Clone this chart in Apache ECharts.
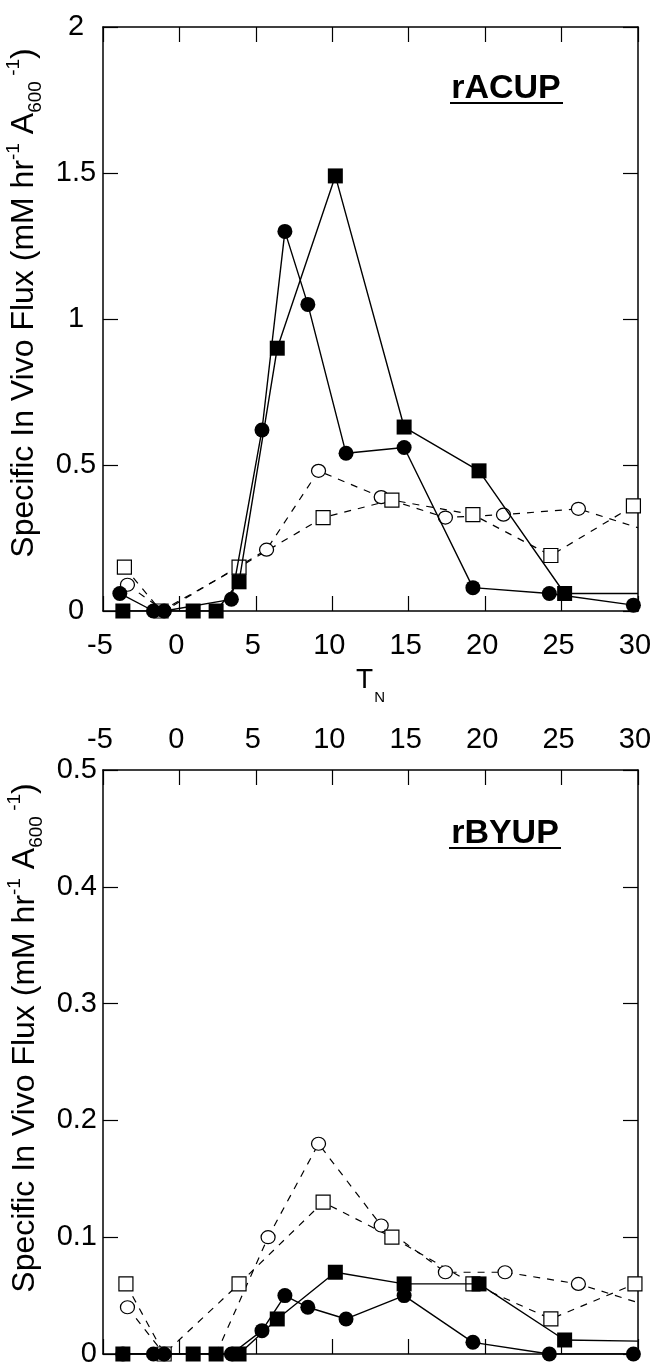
<!DOCTYPE html>
<html><head><meta charset="utf-8">
<script src="https://cdn.jsdelivr.net/npm/echarts@6/dist/echarts.min.js"></script>
<style>html,body{margin:0;padding:0;background:#fff}#c{width:651px;height:1367px}</style>
</head><body><div id="c"></div>
<script>
// ---------- Data: rACUP panel (top) ----------
const xTicksMin = -5, xTicksMax = 30, xTickStep = 5;
const acupYMax = 2, acupYStep = 0.5;
const acupFilledCircleX = [-3.9, -1.7, -1.0, 3.4, 5.4, 6.9, 8.4, 10.9, 14.7, 19.2, 24.2, 29.7];
const acupFilledCircleY = [0.06, 0, 0, 0.04, 0.62, 1.30, 1.05, 0.54, 0.56, 0.08, 0.06, 0.02];
const acupFilledSquareX = [-3.7, 0.9, 2.4, 3.9, 6.4, 10.2, 14.7, 19.6, 25.2];
const acupFilledSquareY = [0, 0, 0, 0.10, 0.90, 1.49, 0.63, 0.48, 0.06];
const acupFilledSquareEdge = [30, 0.06];
const acupOpenCircleX = [-3.4, -1.0, 5.7, 9.1, 13.2, 17.4, 21.2, 26.1];
const acupOpenCircleY = [0.09, 0, 0.21, 0.48, 0.39, 0.32, 0.33, 0.35];
const acupOpenCircleEdge = [30, 0.285];
const acupOpenSquareX = [-3.6, -1.2, 3.9, 9.4, 13.9, 19.2, 24.3, 29.7];
const acupOpenSquareY = [0.15, 0, 0.15, 0.32, 0.38, 0.33, 0.19, 0.36];

// ---------- Data: rBYUP panel (bottom) ----------
const byupYMax = 0.5, byupYStep = 0.1;
const byupFilledCircleX = [-3.7, -1.7, -1.0, 3.4, 5.4, 6.9, 8.4, 10.9, 14.7, 19.2, 24.2, 29.7];
const byupFilledCircleY = [0, 0, 0, 0, 0.02, 0.05, 0.04, 0.03, 0.05, 0.01, 0, 0];
const byupFilledSquareX = [-3.7, 0.9, 2.4, 3.9, 6.4, 10.2, 14.7, 19.6, 25.2];
const byupFilledSquareY = [0, 0, 0, 0, 0.03, 0.07, 0.06, 0.06, 0.012];
const byupFilledSquareEdge = [30, 0.011];
const byupOpenCircleX = [-3.4, -1.0, 2.4, 5.8, 9.1, 13.2, 17.4, 21.3, 26.1];
const byupOpenCircleY = [0.04, 0, 0, 0.10, 0.18, 0.11, 0.07, 0.07, 0.06];
const byupOpenCircleEdge = [30, 0.044];
const byupOpenSquareX = [-3.5, -1.0, 3.9, 9.4, 13.9, 19.2, 24.3, 29.8];
const byupOpenSquareY = [0.06, 0, 0.06, 0.13, 0.10, 0.06, 0.03, 0.06];

const panelTitles = ['rACUP', 'rBYUP'];
const yTitle = '{a|Specific In Vivo Flux (mM hr}{p|-1}{a| A}{b|600}{p| -1}{a|)}';
const xTitle = '{t|T}{n|N}';

// ---------- Build ----------
const FONT = '"Liberation Sans", Arial, Helvetica, sans-serif';
function pts(xs, ys, edge) {
  const d = xs.map((x, i) => [x, ys[i]]);
  if (edge) d.push({ value: edge, symbol: 'none' });
  return d;
}
const richY = {
  a: { fontSize: 32, lineHeight: 41, fontFamily: FONT, color: '#000', verticalAlign: 'middle' },
  p: { fontSize: 19, lineHeight: 19, fontFamily: FONT, color: '#000', verticalAlign: 'top' },
  b: { fontSize: 19, lineHeight: 19, fontFamily: FONT, color: '#000', verticalAlign: 'bottom' }
};
const richX = {
  t: { fontSize: 28, lineHeight: 28, fontFamily: FONT, color: '#000', verticalAlign: 'top' },
  n: { fontSize: 15, lineHeight: 15, fontFamily: FONT, color: '#000', verticalAlign: 'top', padding: [24, 0, 0, 1] }
};
const lineCol = '#000';
const tick = { show: true, inside: true, length: 15, lineStyle: { color: lineCol, width: 1.2 } };
const axLine = { show: true, onZero: false, lineStyle: { color: lineCol, width: 1.5 } };
const lab = (show, margin, extra) => Object.assign({ show, margin, fontSize: 29, fontFamily: FONT, color: '#000', showMinLabel: true, showMaxLabel: true }, extra || {});

function xAx(grid, pos, showLab, margin, name) {
  const o = { type: 'value', gridIndex: grid, position: pos, min: xTicksMin, max: xTicksMax, interval: xTickStep,
    axisLine: axLine, axisTick: tick, splitLine: { show: false }, axisLabel: lab(showLab, margin, { padding: [0, 6, 0, 0] }) };
  if (name) Object.assign(o, { name, nameLocation: 'middle', nameGap: 55, nameTextStyle: { rich: richX } });
  return o;
}
function yAx(grid, pos, max, step, showLab, labExtra, margin, shiftUp) {
  const o = { type: 'value', gridIndex: grid, position: pos, min: 0, max, interval: step,
    axisLine: axLine, axisTick: tick, splitLine: { show: false }, axisLabel: lab(showLab, margin, labExtra) };
  if (showLab) Object.assign(o, { name: yTitle, nameLocation: 'middle', nameRotate: 90, nameGap: 55,
    nameTextStyle: { rich: richY, padding: [0, 0, 0, shiftUp] } });
  return o;
}
function filled(data, symbol, xi, yi) {
  return { type: 'line', xAxisIndex: xi, yAxisIndex: yi, data, symbol, symbolSize: 15, z: 3,
    itemStyle: { color: '#000' }, lineStyle: { color: lineCol, width: 1.4, type: 'solid' } };
}
function open(data, symbol, size, xi, yi) {
  return { type: 'line', xAxisIndex: xi, yAxisIndex: yi, data, symbol, symbolSize: size, z: 2,
    itemStyle: { color: '#fff', borderColor: '#000', borderWidth: 1.2 },
    lineStyle: { color: lineCol, width: 1.2, type: [7, 7] } };
}

const chart = echarts.init(document.getElementById('c'), null, { renderer: 'canvas' });
chart.setOption({
  animation: false,
  backgroundColor: '#fff',
  grid: [
    { left: 103, top: 27, width: 535, height: 584, outerBoundsMode: 'none', containLabel: false },
    { left: 103, top: 770, width: 535, height: 584, outerBoundsMode: 'none', containLabel: false }
  ],
  xAxis: [
    xAx(0, 'bottom', true, 20, xTitle),
    xAx(0, 'top', false, 8),
    xAx(1, 'top', true, 16),
    xAx(1, 'bottom', false, 8)
  ],
  yAxis: [
    yAx(0, 'left', acupYMax, acupYStep, true, { align: 'center' }, 27, 32),
    yAx(0, 'right', acupYMax, acupYStep, false, null, 8),
    yAx(1, 'left', byupYMax, byupYStep, true, null, 6, 48),
    yAx(1, 'right', byupYMax, byupYStep, false, null, 8)
  ],
  series: [
    open(pts(acupOpenCircleX, acupOpenCircleY, acupOpenCircleEdge), 'circle', [14, 13], 0, 0),
    open(pts(acupOpenSquareX, acupOpenSquareY), 'rect', 14, 0, 0),
    filled(pts(acupFilledSquareX, acupFilledSquareY, acupFilledSquareEdge), 'rect', 0, 0),
    filled(pts(acupFilledCircleX, acupFilledCircleY), 'circle', 0, 0),
    open(pts(byupOpenCircleX, byupOpenCircleY, byupOpenCircleEdge), 'circle', [14, 13], 2, 2),
    open(pts(byupOpenSquareX, byupOpenSquareY), 'rect', 14, 2, 2),
    filled(pts(byupFilledSquareX, byupFilledSquareY, byupFilledSquareEdge), 'rect', 2, 2),
    filled(pts(byupFilledCircleX, byupFilledCircleY), 'circle', 2, 2)
  ],
  graphic: [
    { type: 'text', x: 506, y: 89, style: { text: panelTitles[0], font: 'bold 34px ' + FONT, fill: '#000', align: 'center', verticalAlign: 'middle' } },
    { type: 'rect', shape: { x: 450, y: 102, width: 113, height: 2 }, style: { fill: '#000' } },
    { type: 'text', x: 505, y: 834, style: { text: panelTitles[1], font: 'bold 34px ' + FONT, fill: '#000', align: 'center', verticalAlign: 'middle' } },
    { type: 'rect', shape: { x: 449, y: 847, width: 112, height: 2 }, style: { fill: '#000' } }
  ]
});
</script></body></html>
